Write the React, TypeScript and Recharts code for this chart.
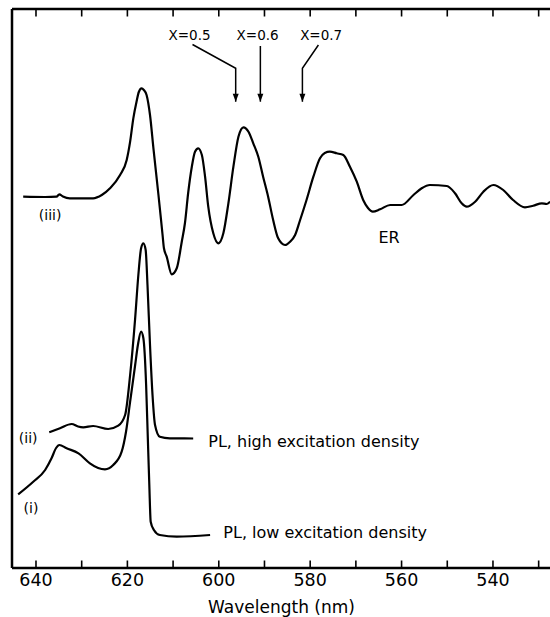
import { LineChart, Line, XAxis, YAxis, ReferenceDot } from 'recharts';

// wavelength (nm) vs. signal (arbitrary units, curves offset vertically)
const erWavelength = [
  642.8, 638.0, 635.5, 634.9, 634.1, 632.6, 627.5, 625.6, 623.8, 621.6, 620.15, 619.4, 618.7, 618.0,
  617.5, 616.9, 616.4, 615.8, 615.05, 614.3, 613.2, 612.3, 612.0, 611.4, 610.3, 609.2, 608.1, 607.4,
  606.7, 605.9, 605.2, 604.5, 603.7, 603.0, 602.3, 601.2, 600.1, 599.0, 597.9, 596.8, 595.7, 594.6,
  593.5, 592.45, 591.35, 590.3, 589.2, 588.1, 587.0, 585.5, 584.4, 583.3, 582.2, 580.8, 579.3, 577.85,
  576.8, 575.7, 574.2, 572.75, 571.3, 569.8, 568.4, 567.35, 566.3, 564.7, 562.5, 560.0, 557.4, 555.6,
  553.8, 550.1, 548.3, 546.85, 545.75, 543.9, 542.1, 539.9, 537.75, 535.6, 533.0, 531.2, 529.3, 528.25,
  527.5,
];
const erSignal = [
  371.3, 371, 371.3, 373.7, 371.5, 369.7, 369.7, 373, 379.7, 393, 408, 426.3, 449.7, 466.3,
  476, 479.7, 478, 473, 453, 419.7, 373, 333, 319.7, 311.3, 293.7, 299.7, 326.3, 345,
  375, 401.3, 416.3, 419.7, 413, 391.3, 361.3, 334.7, 324.7, 334.7, 364.7, 401.3, 431.3, 440.7,
  436.3, 424.7, 411.3, 391.3, 371.3, 348, 329.7, 323, 326.3, 333, 348, 368, 391.3, 409.7,
  415, 416.3, 414.7, 413, 401.3, 386.3, 368, 360, 356.3, 358.7, 363, 363, 373, 379.7,
  383, 382, 374.7, 364.7, 361.3, 366.3, 376.3, 383, 378, 368, 360.7, 362.3, 364.7, 364,
  366.3,
];

const plHighWavelength = [
  637.1, 634.75, 632.2, 630.8, 629.65, 627.5, 624.2, 622.0, 620.5, 619.4, 618.3, 617.6, 617.0,
  616.5, 616.0, 615.6, 615.05, 614.5, 613.95, 612.9, 610.7, 605.6,
];
const plHighSignal = [
  135.7, 139.7, 144, 141.5, 140.7, 142, 139, 142.3, 153, 193, 249.7, 293, 319.7,
  324.7, 318, 283, 223, 173, 143, 131.3, 129.7, 129.5,
];

const plLowWavelength = [
  643.9, 640.6, 638.0, 636.6, 635.6, 634.9, 633.3, 630.7, 628.2, 626.4, 624.9, 623.1, 621.25,
  620.3, 619.4, 618.3, 617.7, 617.0, 616.5, 615.9, 615.55, 615.2, 614.9, 614.2, 612.9, 609.2, 601.9,
];
const plLowSignal = [
  73.7, 86.3, 98, 109.7, 120, 123, 119.7, 114.7, 104.7, 100, 98.7, 103, 116.3,
  136.3, 166.3, 203, 223, 236.3, 229.7, 183, 133, 83, 46.3, 38, 33, 31.3, 33,
];

const xTicks = [640, 630, 620, 610, 600, 590, 580, 570, 560, 550, 540, 530];

// composition markers: text position, arrow path
const compLabels = ['X=0.5', 'X=0.6', 'X=0.7'];
const compLabelWavelength = [606.4, 591.5, 577.6];
const compArrowWavelength = [
  [605.75, 596.3, 596.3],
  [590.9, 590.9],
  [578.2, 581.7, 581.7],
];
const compArrowSignal = [
  [523.5, 499.7, 466.3],
  [522, 466.3],
  [523, 499.7, 466.3],
];

const curveLabels = ['(iii)', 'ER', '(ii)', '(i)'];
const curveLabelWavelength = [636.9, 562.75, 641.7, 641.1];
const curveLabelSignal = [348.5, 324.7, 125, 55];

const plLabels = ['PL, high excitation density', 'PL, low excitation density'];
const plLabelWavelength = [602.3, 599.0];
const plLabelSignal = [121.3, 29.7];

const FONT = '"DejaVu Sans", sans-serif';
const DOMAIN: [number, number] = [527.3, 645.25];
const Y_TOP = 559;

// chart geometry (plot area = margins + axis sizes)
const CHART_W = 551;
const CHART_H = 617;
const PLOT_LEFT = 12;
const PLOT_TOP = 9;
const PLOT_W = CHART_W - PLOT_LEFT;

const zip = (xs: number[], ys: number[]) => xs.map((x, i) => ({ x, y: ys[i] }));

const erData = zip(erWavelength, erSignal);
const plHighData = zip(plHighWavelength, plHighSignal);
const plLowData = zip(plLowWavelength, plLowSignal);
const arrowData = compArrowWavelength.map((xs, i) => zip(xs, compArrowSignal[i]));

// same linear mapping as the reversed x axis, for the top frame ticks
const topTickX = (t: number) => PLOT_LEFT + ((DOMAIN[1] - t) / (DOMAIN[1] - DOMAIN[0])) * PLOT_W;

const BottomTick = ({ x, y, payload }: any) => (
  <g>
    <line x1={x} y1={y} x2={x} y2={y - 7.5} stroke="#000" strokeWidth={1.6} />
    {payload.value % 20 === 0 && (
      <text x={x} y={y + 18} textAnchor="middle" fontSize={17.5} fontFamily={FONT} fill="#000">
        {payload.value}
      </text>
    )}
  </g>
);

const ArrowHead = ({ cx, cy, index, points }: any) => {
  if (index !== points.length - 1) return <g key={index} />;
  return <polygon key={index} points={`${cx},${cy} ${cx - 3},${cy - 8} ${cx + 3},${cy - 8}`} fill="#000" />;
};

const textShape = (value: string, size: number, anchor: 'start' | 'middle') => (p: any) => (
  <text x={p.cx} y={p.cy} textAnchor={anchor} fontSize={size} fontFamily={FONT} fill="#000">
    {value}
  </text>
);

const renderTitle = (props: any) => {
  const vb = props.viewBox;
  return (
    <text x={vb.x + vb.width / 2} y={vb.y + 45} textAnchor="middle" fontSize={17} fontFamily={FONT} fill="#000">
      Wavelength (nm)
    </text>
  );
};

const App = () => {
  return (
    <div style={{ position: 'absolute', left: 0, top: 0, width: 550, height: 617, overflow: 'hidden', background: '#fff' }}>
      <LineChart width={CHART_W} height={CHART_H} margin={{ top: 8, right: 0, bottom: 0, left: 11 }}>
        <XAxis
          dataKey="x"
          type="number"
          domain={DOMAIN}
          reversed
          allowDataOverflow
          ticks={xTicks}
          interval={0}
          tickSize={0}
          tickMargin={0}
          tickLine={false}
          tick={<BottomTick />}
          height={49}
          axisLine={{ stroke: '#000', strokeWidth: 2.5 }}
          label={renderTitle}
        />
        <XAxis
          xAxisId="top"
          orientation="top"
          dataKey="x"
          type="number"
          domain={DOMAIN}
          reversed
          allowDataOverflow
          tick={false}
          tickLine={false}
          height={1}
          axisLine={{ stroke: '#000', strokeWidth: 2.5 }}
        />
        <YAxis
          type="number"
          domain={[0, Y_TOP]}
          allowDataOverflow
          width={1}
          tick={false}
          tickLine={false}
          axisLine={{ stroke: '#000', strokeWidth: 2.5 }}
        />
        <Line data={erData} dataKey="y" type="monotone" stroke="#000" strokeWidth={2.2} dot={false} activeDot={false} isAnimationActive={false} />
        <Line data={plHighData} dataKey="y" type="monotone" stroke="#000" strokeWidth={2.2} dot={false} activeDot={false} isAnimationActive={false} />
        <Line data={plLowData} dataKey="y" type="monotone" stroke="#000" strokeWidth={2.2} dot={false} activeDot={false} isAnimationActive={false} />
        {arrowData.map((d, i) => (
          <Line
            key={`arrow-${i}`}
            data={d}
            dataKey="y"
            type="linear"
            stroke="#000"
            strokeWidth={1.5}
            dot={(p: any) => <ArrowHead {...p} points={d} />}
            activeDot={false}
            isAnimationActive={false}
          />
        ))}
        {compLabels.map((t, i) => (
          <ReferenceDot key={t} x={compLabelWavelength[i]} y={528.5} r={0} shape={textShape(t, 13.5, 'middle')} />
        ))}
        {curveLabels.map((t, i) => (
          <ReferenceDot
            key={t}
            x={curveLabelWavelength[i]}
            y={curveLabelSignal[i]}
            r={0}
            shape={textShape(t, t === 'ER' ? 16 : 14, 'middle')}
          />
        ))}
        {plLabels.map((t, i) => (
          <ReferenceDot key={t} x={plLabelWavelength[i]} y={plLabelSignal[i]} r={0} shape={textShape(t, 16, 'start')} />
        ))}
      </LineChart>
      <svg
        width={CHART_W}
        height={40}
        style={{ position: 'absolute', left: 0, top: 0, pointerEvents: 'none' }}
      >
        {xTicks.map((t) => (
          <line
            key={t}
            x1={topTickX(t)}
            y1={PLOT_TOP}
            x2={topTickX(t)}
            y2={PLOT_TOP + 7.5}
            stroke="#000"
            strokeWidth={1.6}
          />
        ))}
      </svg>
    </div>
  );
};

export default App;
